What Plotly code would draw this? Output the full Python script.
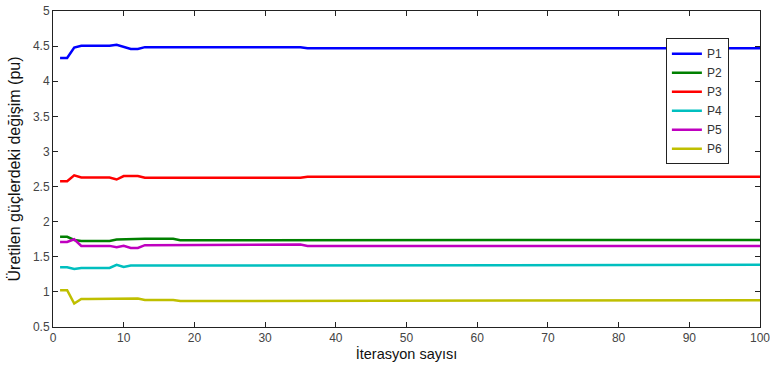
import plotly.graph_objects as go

iterations = list(range(1, 101))

P1 = [4.33]*2 + [4.48] + [4.505]*5 + [4.52] + [4.49] + [4.46]*2 + [4.485]*5 + [4.49] + [4.485]*17 + [4.47]*65
P2 = [1.785]*2 + [1.74] + [1.725]*5 + [1.745] + [1.75] + [1.755]*7 + [1.735]*18 + [1.74]*65
P3 = [2.575]*2 + [2.66] + [2.63]*5 + [2.60] + [2.65]*3 + [2.625]*23 + [2.64]*65
P4 = [1.35]*2 + [1.325] + [1.34]*5 + [1.385] + [1.355] + [1.375]*7 + [1.385]*83
P5 = [1.71]*2 + [1.75] + [1.655]*5 + [1.635] + [1.655] + [1.625]*2 + [1.665]*5 + [1.675]*18 + [1.655]*65
P6 = [1.025]*2 + [0.835] + [0.90]*5 + [0.905]*4 + [0.885]*5 + [0.87]*18 + [0.88]*65

series_names = ["P1", "P2", "P3", "P4", "P5", "P6"]
series_values = [P1, P2, P3, P4, P5, P6]
series_colors = ["#0000FF", "#008000", "#FF0000", "#00BFBF", "#BF00BF", "#BFBF00"]

x_ticks = list(range(0, 101, 10))
y_ticks = [0.5, 1, 1.5, 2, 2.5, 3, 3.5, 4, 4.5, 5]
y_tick_labels = ["0.5", "1", "1.5", "2", "2.5", "3", "3.5", "4", "4.5", "5"]

fig = go.Figure()
for name, vals, col in zip(series_names, series_values, series_colors):
    fig.add_trace(go.Scatter(x=iterations, y=vals, mode="lines", name=name,
                             line=dict(color=col, width=2.5)))

font_family = "Liberation Sans, Arial, sans-serif"
fig.update_layout(
    width=770, height=365,
    margin=dict(l=53, r=10, t=11, b=38),
    paper_bgcolor="white", plot_bgcolor="white",
    font=dict(family=font_family, size=12, color="#222"),
    showlegend=True,
    legend=dict(x=0.956, xanchor="right", y=0.914, yanchor="top",
                bgcolor="white", bordercolor="#222", borderwidth=1,
                font=dict(size=12, color="#333"), itemwidth=30,
                tracegroupgap=0),
)
fig.update_xaxes(range=[0, 100], tickvals=x_ticks, ticks="inside", ticklen=5,
                 tickcolor="#222", showline=True, linecolor="#222", linewidth=1,
                 mirror="ticks", showgrid=False, zeroline=False, automargin=False,
                 ticklabeloverflow="allow",
                 tickfont=dict(size=12, color="#444"),
                 title=dict(text="İterasyon sayısı", font=dict(size=14.5, color="#111"), standoff=2))
fig.update_yaxes(range=[0.5, 5], tickvals=y_ticks, ticktext=y_tick_labels, ticks="inside", ticklen=5,
                 tickcolor="#222", showline=True, linecolor="#222", linewidth=1,
                 mirror="ticks", showgrid=False, zeroline=False, automargin=False,
                 ticklabeloverflow="allow",
                 tickfont=dict(size=12, color="#444"),
                 title=dict(text="Üretilen güçlerdeki değişim (pu)", font=dict(size=16, color="#111"), standoff=8))

fig.write_html("out.html")
